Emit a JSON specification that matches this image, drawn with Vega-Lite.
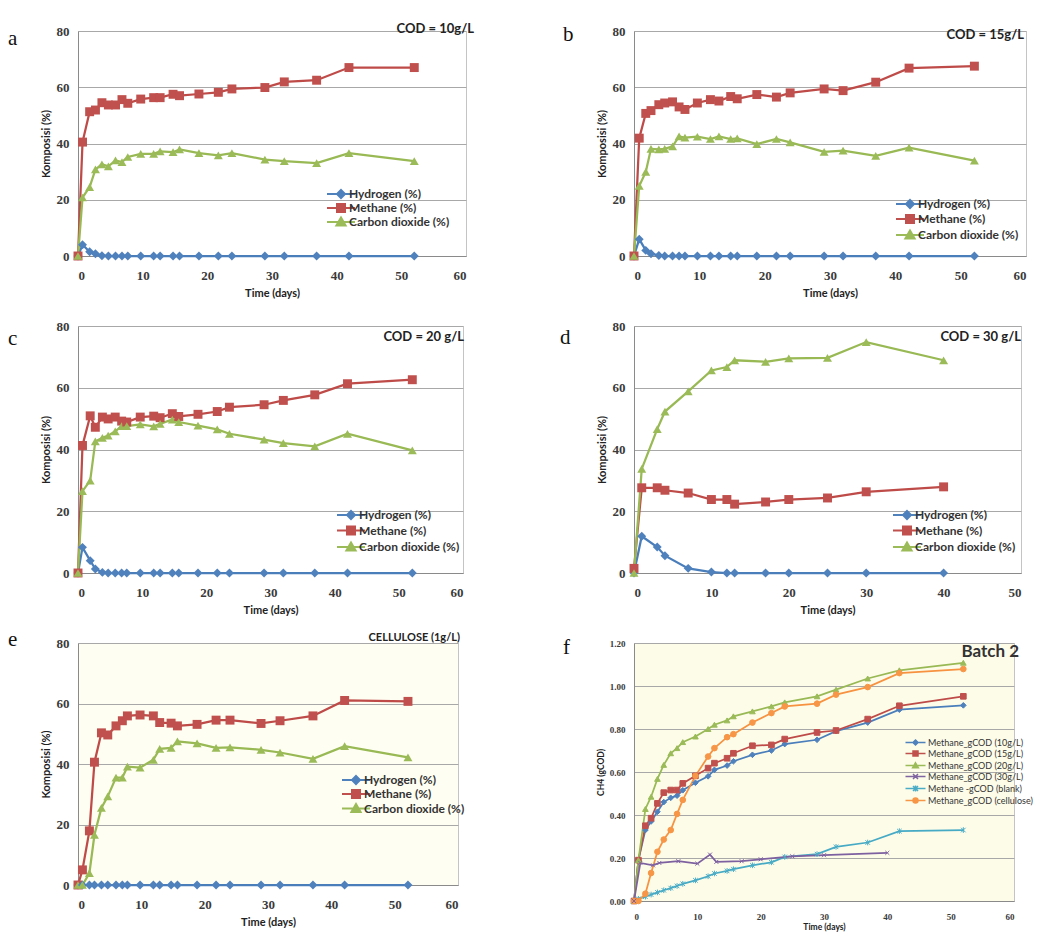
{
"$schema": "https://vega.github.io/schema/vega-lite/v6.json",
"background": "white",
"padding": {"left": 7, "top": 22, "right": 5, "bottom": 5},
"bounds": "flush",
"columns": 2,
"spacing": {"row": 70, "column": 168},
"resolve": {
"scale": {"color": "independent", "fill": "independent", "stroke": "independent", "shape": "independent", "size": "independent"},
"legend": {"color": "independent", "fill": "independent", "stroke": "independent", "shape": "independent", "size": "independent"}
},
"datasets": {
"a": [
{"t":0,"H":0,"M":0,"C":0},
{"t":0.7,"H":4,"M":40.5,"C":20.8},
{"t":1.8,"H":1.5,"M":51.3,"C":24.5},
{"t":2.7,"H":0.8,"M":51.9,"C":30.8},
{"t":3.7,"H":0.1,"M":54.5,"C":32.6},
{"t":4.7,"H":0,"M":53.7,"C":31.9},
{"t":5.8,"H":0,"M":53.7,"C":34.0},
{"t":6.8,"H":0,"M":55.6,"C":33.4},
{"t":7.7,"H":0,"M":54.3,"C":35.2},
{"t":9.7,"H":0,"M":55.8,"C":36.3},
{"t":11.7,"H":0,"M":56.3,"C":36.3},
{"t":12.7,"H":0,"M":56.3,"C":37.2},
{"t":14.7,"H":0,"M":57.5,"C":36.9},
{"t":15.7,"H":0,"M":57.0,"C":37.9},
{"t":18.7,"H":0,"M":57.6,"C":36.6},
{"t":21.7,"H":0,"M":58.2,"C":35.8},
{"t":23.8,"H":0,"M":59.4,"C":36.6},
{"t":28.9,"H":0,"M":59.9,"C":34.3},
{"t":31.9,"H":0,"M":61.9,"C":33.7},
{"t":36.9,"H":0,"M":62.5,"C":33.0},
{"t":41.9,"H":0,"M":67.0,"C":36.6},
{"t":52,"H":0,"M":67.0,"C":33.7}
],
"b": [
{"t":0,"H":0,"M":0,"C":0},
{"t":0.8,"H":6,"M":41.9,"C":24.9},
{"t":1.8,"H":2,"M":50.7,"C":29.9},
{"t":2.6,"H":0.8,"M":51.7,"C":38.1},
{"t":3.8,"H":0.2,"M":53.8,"C":37.9},
{"t":4.7,"H":0,"M":54.4,"C":38.1},
{"t":5.9,"H":0,"M":54.8,"C":39.0},
{"t":6.9,"H":0,"M":53.0,"C":42.5},
{"t":7.8,"H":0,"M":52.1,"C":42.1},
{"t":9.7,"H":0,"M":54.4,"C":42.4},
{"t":11.7,"H":0,"M":55.6,"C":41.6},
{"t":13.0,"H":0,"M":55.1,"C":42.5},
{"t":14.8,"H":0,"M":56.7,"C":41.6},
{"t":15.8,"H":0,"M":55.9,"C":41.8},
{"t":18.8,"H":0,"M":57.4,"C":39.8},
{"t":21.8,"H":0,"M":56.5,"C":41.6},
{"t":23.9,"H":0,"M":58.0,"C":40.4},
{"t":29.1,"H":0,"M":59.4,"C":37.0},
{"t":32.0,"H":0,"M":58.8,"C":37.5},
{"t":37.0,"H":0,"M":61.8,"C":35.6},
{"t":42.1,"H":0,"M":66.8,"C":38.5},
{"t":52.1,"H":0,"M":67.5,"C":33.9}
],
"c": [
{"t":0,"H":0,"M":0,"C":0},
{"t":0.7,"H":8.3,"M":41.3,"C":26.5},
{"t":1.9,"H":4,"M":50.9,"C":29.9},
{"t":2.7,"H":1.3,"M":47.2,"C":42.6},
{"t":3.8,"H":0.2,"M":50.5,"C":43.8},
{"t":4.7,"H":0,"M":49.9,"C":44.5},
{"t":5.8,"H":0,"M":50.5,"C":45.9},
{"t":6.8,"H":0,"M":49.2,"C":47.6},
{"t":7.6,"H":0,"M":48.9,"C":47.6},
{"t":9.7,"H":0,"M":50.5,"C":48.1},
{"t":11.8,"H":0,"M":50.8,"C":47.5},
{"t":12.8,"H":0,"M":50.3,"C":48.3},
{"t":14.7,"H":0,"M":51.6,"C":49.7},
{"t":15.7,"H":0,"M":50.7,"C":48.9},
{"t":18.7,"H":0,"M":51.4,"C":47.7},
{"t":21.7,"H":0,"M":52.3,"C":46.5},
{"t":23.6,"H":0,"M":53.7,"C":45.1},
{"t":29.0,"H":0,"M":54.5,"C":43.2},
{"t":32.0,"H":0,"M":55.9,"C":42.1},
{"t":36.9,"H":0,"M":57.7,"C":41.0},
{"t":42.0,"H":0,"M":61.3,"C":45.1},
{"t":52.1,"H":0,"M":62.6,"C":39.7}
],
"d": [
{"t":0,"H":0,"M":1.5,"C":0},
{"t":1,"H":11.9,"M":27.6,"C":33.7},
{"t":3,"H":8.4,"M":27.6,"C":46.6},
{"t":4,"H":5.6,"M":26.8,"C":52.3},
{"t":7,"H":1.5,"M":25.9,"C":58.8},
{"t":10,"H":0.3,"M":23.8,"C":65.6},
{"t":12,"H":0,"M":23.8,"C":66.7},
{"t":13,"H":0,"M":22.3,"C":68.9},
{"t":17,"H":0,"M":23.0,"C":68.4},
{"t":20,"H":0,"M":23.8,"C":69.5},
{"t":25,"H":0,"M":24.3,"C":69.7},
{"t":30,"H":0,"M":26.3,"C":74.8},
{"t":40,"H":0,"M":27.9,"C":68.9}
],
"e": [
{"t":0,"H":0,"M":0,"C":0},
{"t":0.7,"H":0,"M":5,"C":0},
{"t":1.8,"H":0,"M":17.9,"C":3.9},
{"t":2.6,"H":0,"M":40.6,"C":16.6},
{"t":3.7,"H":0,"M":50.3,"C":25.5},
{"t":4.7,"H":0,"M":49.6,"C":29.3},
{"t":6.0,"H":0,"M":52.6,"C":35.5},
{"t":7.0,"H":0,"M":54.3,"C":35.5},
{"t":7.8,"H":0,"M":55.9,"C":39.1},
{"t":9.8,"H":0,"M":56.2,"C":38.8},
{"t":11.9,"H":0,"M":55.9,"C":41.4},
{"t":12.9,"H":0,"M":53.7,"C":45.0},
{"t":14.7,"H":0,"M":53.5,"C":45.3},
{"t":15.7,"H":0,"M":52.6,"C":47.5},
{"t":18.8,"H":0,"M":53.1,"C":46.8},
{"t":21.8,"H":0,"M":54.5,"C":45.3},
{"t":24.0,"H":0,"M":54.5,"C":45.5},
{"t":28.9,"H":0,"M":53.4,"C":44.7},
{"t":31.9,"H":0,"M":54.3,"C":43.8},
{"t":37.1,"H":0,"M":55.9,"C":41.7},
{"t":42.1,"H":0,"M":61.0,"C":45.9},
{"t":52.1,"H":0,"M":60.7,"C":42.2}
],
"f": [
{"t":0,"g10":0,"g15":0,"g20":0,"blank":0,"cellulose":0},
{"t":0.7,"g10":0.19,"g15":0.19,"g20":0.19,"blank":0.01,"cellulose":0},
{"t":1.8,"g10":0.33,"g15":0.35,"g20":0.428,"blank":0.02,"cellulose":0.034},
{"t":2.7,"g10":0.37,"g15":0.385,"g20":0.485,"blank":0.03,"cellulose":0.13},
{"t":3.7,"g10":0.415,"g15":0.454,"g20":0.568,"blank":0.04,"cellulose":0.229},
{"t":4.7,"g10":0.46,"g15":0.504,"g20":0.633,"blank":0.05,"cellulose":0.286},
{"t":5.8,"g10":0.48,"g15":0.516,"g20":0.687,"blank":0.06,"cellulose":0.33},
{"t":6.8,"g10":0.49,"g15":0.516,"g20":0.711,"blank":0.07,"cellulose":0.405},
{"t":7.7,"g10":0.515,"g15":0.547,"g20":0.739,"blank":0.08,"cellulose":0.47},
{"t":9.7,"g10":0.55,"g15":0.582,"g20":0.765,"blank":0.096,"cellulose":0.582},
{"t":11.7,"g10":0.58,"g15":0.618,"g20":0.8,"blank":0.115,"cellulose":0.672},
{"t":12.7,"g10":0.61,"g15":0.641,"g20":0.82,"blank":0.128,"cellulose":0.711},
{"t":14.7,"g10":0.63,"g15":0.664,"g20":0.84,"blank":0.14,"cellulose":0.762},
{"t":15.7,"g10":0.65,"g15":0.687,"g20":0.859,"blank":0.148,"cellulose":0.776},
{"t":18.7,"g10":0.68,"g15":0.722,"g20":0.882,"blank":0.166,"cellulose":0.83},
{"t":21.7,"g10":0.7,"g15":0.726,"g20":0.905,"blank":0.18,"cellulose":0.874},
{"t":23.8,"g10":0.73,"g15":0.753,"g20":0.924,"blank":0.205,"cellulose":0.905},
{"t":28.9,"g10":0.75,"g15":0.784,"g20":0.952,"blank":0.218,"cellulose":0.918},
{"t":31.9,"g10":0.79,"g15":0.793,"g20":0.983,"blank":0.252,"cellulose":0.96},
{"t":36.9,"g10":0.83,"g15":0.846,"g20":1.035,"blank":0.272,"cellulose":0.995},
{"t":41.9,"g10":0.89,"g15":0.908,"g20":1.073,"blank":0.325,"cellulose":1.06},
{"t":52,"g10":0.91,"g15":0.952,"g20":1.108,"blank":0.33,"cellulose":1.079},
{"t":0,"g30":0},
{"t":1,"g30":0.177},
{"t":3,"g30":0.166},
{"t":4,"g30":0.177},
{"t":7,"g30":0.185},
{"t":10,"g30":0.174},
{"t":12,"g30":0.216},
{"t":13,"g30":0.182},
{"t":17,"g30":0.185},
{"t":20,"g30":0.194},
{"t":25,"g30":0.208},
{"t":30,"g30":0.213},
{"t":40,"g30":0.224}
]
},
"concat": [
{
"width": 388, "height": 225,
"title": {"text": "a", "dx": -70, "dy": 30},
"resolve": {"scale": {"color": "independent", "fill": "independent", "stroke": "independent", "shape": "independent"}, "legend": {"color": "independent", "fill": "independent", "stroke": "independent", "shape": "independent"}},
"layer": [
{"data": {"name": "a"}, "transform": [{"fold": ["H","M","C"], "as": ["s","v"]}],
"mark": {"type": "line", "strokeWidth": 2.25},
"encoding": {
"x": {"field": "t", "type": "quantitative", "scale": {"domain": [0,60], "nice": false}, "axis": {"values": [0,10,20,30,40,50,60], "title": "Time (days)"}},
"y": {"field": "v", "type": "quantitative", "scale": {"domain": [0,80], "nice": false}, "axis": {"values": [0,10,20,30,40,50,60,70,80], "title": "Komposisi (%)"}},
"color": {"field": "s", "type": "nominal", "scale": {"domain": ["H","M","C"], "range": ["#4A7EBB","#BE4B48","#98B954"]}, "legend": null}}},
{"data": {"name": "a"}, "transform": [{"fold": ["H","M","C"], "as": ["s","v"]}],
"mark": {"type": "point", "filled": true, "opacity": 1, "size": 80},
"encoding": {
"x": {"field": "t", "type": "quantitative"},
"y": {"field": "v", "type": "quantitative"},
"fill": {"field": "s", "type": "nominal", "scale": {"domain": ["H","M","C"], "range": ["#4F81BD","#C0504D","#9BBB59"]}, "legend": null},
"shape": {"field": "s", "type": "nominal", "scale": {"domain": ["H","M","C"], "range": ["diamond","square","triangle-up"]}, "legend": null}}},
{"data": {"name": "a"}, "transform": [{"fold": ["H","M","C"], "as": ["s","v"]}],
"mark": {"type": "point", "filled": true, "opacity": 0, "size": 64, "strokeWidth": 2},
"encoding": {
"x": {"field": "t", "type": "quantitative"},
"y": {"field": "v", "type": "quantitative"},
"fill": {"field": "s", "type": "nominal", "scale": {"domain": ["H","M","C"], "range": ["#4F81BD","#C0504D","#9BBB59"]}},
"stroke": {"field": "s", "type": "nominal", "scale": {"domain": ["H","M","C"], "range": ["#4F81BD","#C0504D","#9BBB59"]}},
"shape": {"field": "s", "type": "nominal", "scale": {"domain": ["H","M","C"], "range": ["M-3.5,0H3.5M0,-1L1,0L0,1L-1,0Z","M-3.5,0H3.5M-1,-1H1V1H-1Z","M-3.5,0H3.5M0,-1.1L1.15,0.9H-1.15Z"]},
"legend": {"title": null, "legendX": 257, "legendY": 157, "rowPadding": -4, "symbolOpacity": 1, "symbolStrokeWidth": 2, "symbolSize": 64,
"labelExpr": "['Hydrogen (%)','Methane (%)','Carbon dioxide (%)'][indexof(['H','M','C'],datum.label)]"}}}},
{"data": {"values": [{"label": "COD = 10g/L"}]},
"mark": {"type": "text", "align": "right", "baseline": "alphabetic", "dx": 8, "dy": 2, "font": "Lato", "fontSize": 13, "fontWeight": "bold", "color": "#222"},
"encoding": {"x": {"datum": 60}, "y": {"datum": 80}, "text": {"field": "label", "type": "nominal"}}}
]
},
{
"width": 392, "height": 225,
"title": {"text": "b", "dx": -71, "dy": 24},
"resolve": {"scale": {"color": "independent", "fill": "independent", "stroke": "independent", "shape": "independent"}, "legend": {"color": "independent", "fill": "independent", "stroke": "independent", "shape": "independent"}},
"layer": [
{"data": {"name": "b"}, "transform": [{"fold": ["H","M","C"], "as": ["s","v"]}],
"mark": {"type": "line", "strokeWidth": 2.25},
"encoding": {
"x": {"field": "t", "type": "quantitative", "scale": {"domain": [0,60], "nice": false}, "axis": {"values": [0,10,20,30,40,50,60], "title": "Time (days)"}},
"y": {"field": "v", "type": "quantitative", "scale": {"domain": [0,80], "nice": false}, "axis": {"values": [0,10,20,30,40,50,60,70,80], "title": "Komposisi (%)"}},
"color": {"field": "s", "type": "nominal", "scale": {"domain": ["H","M","C"], "range": ["#4A7EBB","#BE4B48","#98B954"]}, "legend": null}}},
{"data": {"name": "b"}, "transform": [{"fold": ["H","M","C"], "as": ["s","v"]}],
"mark": {"type": "point", "filled": true, "opacity": 1, "size": 80},
"encoding": {
"x": {"field": "t", "type": "quantitative"},
"y": {"field": "v", "type": "quantitative"},
"fill": {"field": "s", "type": "nominal", "scale": {"domain": ["H","M","C"], "range": ["#4F81BD","#C0504D","#9BBB59"]}, "legend": null},
"shape": {"field": "s", "type": "nominal", "scale": {"domain": ["H","M","C"], "range": ["diamond","square","triangle-up"]}, "legend": null}}},
{"data": {"name": "b"}, "transform": [{"fold": ["H","M","C"], "as": ["s","v"]}],
"mark": {"type": "point", "filled": true, "opacity": 0, "size": 64, "strokeWidth": 2},
"encoding": {
"x": {"field": "t", "type": "quantitative"},
"y": {"field": "v", "type": "quantitative"},
"fill": {"field": "s", "type": "nominal", "scale": {"domain": ["H","M","C"], "range": ["#4F81BD","#C0504D","#9BBB59"]}},
"stroke": {"field": "s", "type": "nominal", "scale": {"domain": ["H","M","C"], "range": ["#4F81BD","#C0504D","#9BBB59"]}},
"shape": {"field": "s", "type": "nominal", "scale": {"domain": ["H","M","C"], "range": ["M-3.5,0H3.5M0,-1L1,0L0,1L-1,0Z","M-3.5,0H3.5M-1,-1H1V1H-1Z","M-3.5,0H3.5M0,-1.1L1.15,0.9H-1.15Z"]},
"legend": {"title": null, "legendX": 270, "legendY": 167, "rowPadding": -1, "symbolOpacity": 1, "symbolStrokeWidth": 2, "symbolSize": 64,
"labelExpr": "['Hydrogen (%)','Methane (%)','Carbon dioxide (%)'][indexof(['H','M','C'],datum.label)]"}}}},
{"data": {"values": [{"label": "COD = 15g/L"}]},
"mark": {"type": "text", "align": "right", "baseline": "alphabetic", "dx": -2, "dy": 8, "font": "Lato", "fontSize": 13, "fontWeight": "bold", "color": "#222"},
"encoding": {"x": {"datum": 60}, "y": {"datum": 80}, "text": {"field": "label", "type": "nominal"}}}
]
},
{
"width": 385, "height": 247,
"title": {"text": "c", "dx": -70, "dy": 33},
"resolve": {"scale": {"color": "independent", "fill": "independent", "stroke": "independent", "shape": "independent"}, "legend": {"color": "independent", "fill": "independent", "stroke": "independent", "shape": "independent"}},
"layer": [
{"data": {"name": "c"}, "transform": [{"fold": ["H","M","C"], "as": ["s","v"]}],
"mark": {"type": "line", "strokeWidth": 2.25},
"encoding": {
"x": {"field": "t", "type": "quantitative", "scale": {"domain": [0,60], "nice": false}, "axis": {"values": [0,10,20,30,40,50,60], "title": "Time (days)"}},
"y": {"field": "v", "type": "quantitative", "scale": {"domain": [0,80], "nice": false}, "axis": {"values": [0,10,20,30,40,50,60,70,80], "title": "Komposisi (%)"}},
"color": {"field": "s", "type": "nominal", "scale": {"domain": ["H","M","C"], "range": ["#4A7EBB","#BE4B48","#98B954"]}, "legend": null}}},
{"data": {"name": "c"}, "transform": [{"fold": ["H","M","C"], "as": ["s","v"]}],
"mark": {"type": "point", "filled": true, "opacity": 1, "size": 80},
"encoding": {
"x": {"field": "t", "type": "quantitative"},
"y": {"field": "v", "type": "quantitative"},
"fill": {"field": "s", "type": "nominal", "scale": {"domain": ["H","M","C"], "range": ["#4F81BD","#C0504D","#9BBB59"]}, "legend": null},
"shape": {"field": "s", "type": "nominal", "scale": {"domain": ["H","M","C"], "range": ["diamond","square","triangle-up"]}, "legend": null}}},
{"data": {"name": "c"}, "transform": [{"fold": ["H","M","C"], "as": ["s","v"]}],
"mark": {"type": "point", "filled": true, "opacity": 0, "size": 64, "strokeWidth": 2},
"encoding": {
"x": {"field": "t", "type": "quantitative"},
"y": {"field": "v", "type": "quantitative"},
"fill": {"field": "s", "type": "nominal", "scale": {"domain": ["H","M","C"], "range": ["#4F81BD","#C0504D","#9BBB59"]}},
"stroke": {"field": "s", "type": "nominal", "scale": {"domain": ["H","M","C"], "range": ["#4F81BD","#C0504D","#9BBB59"]}},
"shape": {"field": "s", "type": "nominal", "scale": {"domain": ["H","M","C"], "range": ["M-3.5,0H3.5M0,-1L1,0L0,1L-1,0Z","M-3.5,0H3.5M-1,-1H1V1H-1Z","M-3.5,0H3.5M0,-1.1L1.15,0.9H-1.15Z"]},
"legend": {"title": null, "legendX": 267, "legendY": 183, "rowPadding": -0.5, "symbolOpacity": 1, "symbolStrokeWidth": 2, "symbolSize": 64,
"labelExpr": "['Hydrogen (%)','Methane (%)','Carbon dioxide (%)'][indexof(['H','M','C'],datum.label)]"}}}},
{"data": {"values": [{"label": "COD = 20 g/L"}]},
"mark": {"type": "text", "align": "right", "baseline": "alphabetic", "dx": 1, "dy": 15, "font": "Lato", "fontSize": 13, "fontWeight": "bold", "color": "#222"},
"encoding": {"x": {"datum": 60}, "y": {"datum": 80}, "text": {"field": "label", "type": "nominal"}}}
]
},
{
"width": 387, "height": 247,
"title": {"text": "d", "dx": -74, "dy": 32},
"resolve": {"scale": {"color": "independent", "fill": "independent", "stroke": "independent", "shape": "independent"}, "legend": {"color": "independent", "fill": "independent", "stroke": "independent", "shape": "independent"}},
"layer": [
{"data": {"name": "d"}, "transform": [{"fold": ["H","M","C"], "as": ["s","v"]}],
"mark": {"type": "line", "strokeWidth": 2.25},
"encoding": {
"x": {"field": "t", "type": "quantitative", "scale": {"domain": [0,50], "nice": false}, "axis": {"values": [0,10,20,30,40,50], "title": "Time (days)"}},
"y": {"field": "v", "type": "quantitative", "scale": {"domain": [0,80], "nice": false}, "axis": {"values": [0,10,20,30,40,50,60,70,80], "title": "Komposisi (%)"}},
"color": {"field": "s", "type": "nominal", "scale": {"domain": ["H","M","C"], "range": ["#4A7EBB","#BE4B48","#98B954"]}, "legend": null}}},
{"data": {"name": "d"}, "transform": [{"fold": ["H","M","C"], "as": ["s","v"]}],
"mark": {"type": "point", "filled": true, "opacity": 1, "size": 80},
"encoding": {
"x": {"field": "t", "type": "quantitative"},
"y": {"field": "v", "type": "quantitative"},
"fill": {"field": "s", "type": "nominal", "scale": {"domain": ["H","M","C"], "range": ["#4F81BD","#C0504D","#9BBB59"]}, "legend": null},
"shape": {"field": "s", "type": "nominal", "scale": {"domain": ["H","M","C"], "range": ["diamond","square","triangle-up"]}, "legend": null}}},
{"data": {"name": "d"}, "transform": [{"fold": ["H","M","C"], "as": ["s","v"]}],
"mark": {"type": "point", "filled": true, "opacity": 0, "size": 64, "strokeWidth": 2},
"encoding": {
"x": {"field": "t", "type": "quantitative"},
"y": {"field": "v", "type": "quantitative"},
"fill": {"field": "s", "type": "nominal", "scale": {"domain": ["H","M","C"], "range": ["#4F81BD","#C0504D","#9BBB59"]}},
"stroke": {"field": "s", "type": "nominal", "scale": {"domain": ["H","M","C"], "range": ["#4F81BD","#C0504D","#9BBB59"]}},
"shape": {"field": "s", "type": "nominal", "scale": {"domain": ["H","M","C"], "range": ["M-3.5,0H3.5M0,-1L1,0L0,1L-1,0Z","M-3.5,0H3.5M-1,-1H1V1H-1Z","M-3.5,0H3.5M0,-1.1L1.15,0.9H-1.15Z"]},
"legend": {"title": null, "legendX": 267, "legendY": 183, "rowPadding": -0.5, "symbolOpacity": 1, "symbolStrokeWidth": 2, "symbolSize": 64,
"labelExpr": "['Hydrogen (%)','Methane (%)','Carbon dioxide (%)'][indexof(['H','M','C'],datum.label)]"}}}},
{"data": {"values": [{"label": "COD = 30 g/L"}]},
"mark": {"type": "text", "align": "right", "baseline": "alphabetic", "dx": 0, "dy": 15, "font": "Lato", "fontSize": 13, "fontWeight": "bold", "color": "#222"},
"encoding": {"x": {"datum": 50}, "y": {"datum": 80}, "text": {"field": "label", "type": "nominal"}}}
]
},
{
"width": 380, "height": 242,
"title": {"text": "e", "dx": -70, "dy": 22},
"view": {"fill": "#fffef2"},
"resolve": {"scale": {"color": "independent", "fill": "independent", "stroke": "independent", "shape": "independent"}, "legend": {"color": "independent", "fill": "independent", "stroke": "independent", "shape": "independent"}},
"layer": [
{"data": {"name": "e"}, "transform": [{"fold": ["H","M","C"], "as": ["s","v"]}],
"mark": {"type": "line", "strokeWidth": 2.25},
"encoding": {
"x": {"field": "t", "type": "quantitative", "scale": {"domain": [0,60], "nice": false}, "axis": {"values": [0,10,20,30,40,50,60], "title": "Time (days)"}},
"y": {"field": "v", "type": "quantitative", "scale": {"domain": [0,80], "nice": false}, "axis": {"values": [0,20,40,60,80], "title": "Komposisi (%)"}},
"color": {"field": "s", "type": "nominal", "scale": {"domain": ["H","M","C"], "range": ["#4A7EBB","#BE4B48","#98B954"]}, "legend": null}}},
{"data": {"name": "e"}, "transform": [{"fold": ["H","M","C"], "as": ["s","v"]}],
"mark": {"type": "point", "filled": true, "opacity": 1, "size": 80},
"encoding": {
"x": {"field": "t", "type": "quantitative"},
"y": {"field": "v", "type": "quantitative"},
"fill": {"field": "s", "type": "nominal", "scale": {"domain": ["H","M","C"], "range": ["#4F81BD","#C0504D","#9BBB59"]}, "legend": null},
"shape": {"field": "s", "type": "nominal", "scale": {"domain": ["H","M","C"], "range": ["diamond","square","triangle-up"]}, "legend": null}}},
{"data": {"name": "e"}, "transform": [{"fold": ["H","M","C"], "as": ["s","v"]}],
"mark": {"type": "point", "filled": true, "opacity": 0, "size": 64, "strokeWidth": 2},
"encoding": {
"x": {"field": "t", "type": "quantitative"},
"y": {"field": "v", "type": "quantitative"},
"fill": {"field": "s", "type": "nominal", "scale": {"domain": ["H","M","C"], "range": ["#4F81BD","#C0504D","#9BBB59"]}},
"stroke": {"field": "s", "type": "nominal", "scale": {"domain": ["H","M","C"], "range": ["#4F81BD","#C0504D","#9BBB59"]}},
"shape": {"field": "s", "type": "nominal", "scale": {"domain": ["H","M","C"], "range": ["M-3.5,0H3.5M0,-1L1,0L0,1L-1,0Z","M-3.5,0H3.5M-1,-1H1V1H-1Z","M-3.5,0H3.5M0,-1.1L1.15,0.9H-1.15Z"]},
"legend": {"title": null, "legendX": 272, "legendY": 131, "rowPadding": -2.5, "symbolOpacity": 1, "symbolStrokeWidth": 2, "symbolSize": 64,
"labelExpr": "['Hydrogen (%)','Methane (%)','Carbon dioxide (%)'][indexof(['H','M','C'],datum.label)]"}}}},
{"data": {"values": [{"label": "CELLULOSE (1g/L)"}]},
"mark": {"type": "text", "align": "right", "baseline": "alphabetic", "dx": 2, "dy": -2, "font": "Lato", "fontSize": 11, "fontWeight": "bold", "color": "#222"},
"encoding": {"x": {"datum": 60}, "y": {"datum": 80}, "text": {"field": "label", "type": "nominal"}}}
]
},
{
"width": 380, "height": 258,
"title": {"text": "f", "dx": -71, "dy": 23},
"view": {"fill": "#fdfce9"},
"resolve": {"scale": {"color": "independent", "fill": "independent", "stroke": "independent", "shape": "independent"}, "legend": {"color": "independent", "fill": "independent", "stroke": "independent", "shape": "independent"}},
"layer": [
{"data": {"name": "f"}, "transform": [{"fold": ["g10","g15","g20","g30","blank","cellulose"], "as": ["s","v"]}, {"filter": {"field": "v", "valid": true}}],
"mark": {"type": "line", "strokeWidth": 1.75},
"encoding": {
"x": {"field": "t", "type": "quantitative", "scale": {"domain": [0,60], "nice": false}, "axis": {"values": [0,10,20,30,40,50,60], "title": "Time (days)", "labelFontSize": 9, "titleFontSize": 8.5, "labelPadding": 11, "titlePadding": 1}},
"y": {"field": "v", "type": "quantitative", "scale": {"domain": [0,1.2], "nice": false}, "axis": {"values": [0,0.2,0.4,0.6,0.8,1.0,1.2], "format": ".2f", "title": "CH4 (gCOD)", "labelFontSize": 9, "titleFontSize": 8.5, "titlePadding": 4}},
"color": {"field": "s", "type": "nominal", "scale": {"domain": ["g10","g15","g20","g30","blank","cellulose"], "range": ["#4A7EBB","#BE4B48","#98B954","#7D60A0","#46AAC5","#F69240"]}, "legend": null}}},
{"data": {"name": "f"}, "transform": [{"fold": ["g10","g15","g20","g30","blank","cellulose"], "as": ["s","v"]}, {"filter": {"field": "v", "valid": true}}],
"mark": {"type": "point", "filled": true, "opacity": 1, "strokeWidth": 1, "size": 32},
"encoding": {
"x": {"field": "t", "type": "quantitative"},
"y": {"field": "v", "type": "quantitative"},
"fill": {"field": "s", "type": "nominal", "scale": {"domain": ["g10","g15","g20","g30","blank","cellulose"], "range": ["#4F81BD","#C0504D","#9BBB59","#8064A2","#4BACC6","#F79646"]}, "legend": null},
"stroke": {"field": "s", "type": "nominal", "scale": {"domain": ["g10","g15","g20","g30","blank","cellulose"], "range": ["#4F81BD","#C0504D","#9BBB59","#8064A2","#4BACC6","#F79646"]}, "legend": null},
"shape": {"field": "s", "type": "nominal", "scale": {"domain": ["g10","g15","g20","g30","blank","cellulose"], "range": ["diamond","square","triangle-up","M-0.7,-0.7L0.7,0.7M-0.7,0.7L0.7,-0.7","M-0.8,-0.8L0.8,0.8M-0.8,0.8L0.8,-0.8M0,-1V1","circle"]}, "legend": null}}},
{"data": {"name": "f"}, "transform": [{"fold": ["g10","g15","g20","g30","blank","cellulose"], "as": ["s","v"]}, {"filter": {"field": "v", "valid": true}}],
"mark": {"type": "point", "filled": true, "opacity": 0, "size": 25, "strokeWidth": 1.5},
"encoding": {
"x": {"field": "t", "type": "quantitative"},
"y": {"field": "v", "type": "quantitative"},
"fill": {"field": "s", "type": "nominal", "scale": {"domain": ["g10","g15","g20","g30","blank","cellulose"], "range": ["#4F81BD","#C0504D","#9BBB59","#8064A2","#4BACC6","#F79646"]}},
"stroke": {"field": "s", "type": "nominal", "scale": {"domain": ["g10","g15","g20","g30","blank","cellulose"], "range": ["#4F81BD","#C0504D","#9BBB59","#8064A2","#4BACC6","#F79646"]}},
"shape": {"field": "s", "type": "nominal", "scale": {"domain": ["g10","g15","g20","g30","blank","cellulose"], "range": ["M-4,0H4M0,-1L1,0L0,1L-1,0Z","M-4,0H4M-1,-1H1V1H-1Z","M-4,0H4M0,-1.1L1.15,0.9H-1.15Z","M-4,0H4M-1,-1L1,1M-1,1L1,-1","M-4,0H4M-1,-1L1,1M-1,1L1,-1M0,-1.2V1.2","M-4,0H4M1,0A1,1,0,1,1,-1,0A1,1,0,1,1,1,0Z"]},
"legend": {"title": null, "legendX": 277, "legendY": 95, "rowPadding": 0, "symbolOpacity": 1, "symbolStrokeWidth": 1.5, "symbolSize": 25, "labelOffset": 8, "labelFontSize": 9, "labelFontWeight": "normal",
"labelExpr": "['Methane_gCOD (10g/L)','Methane_gCOD (15g/L)','Methane_gCOD (20g/L)','Methane_gCOD (30g/L)','Methane -gCOD (blank)','Methane_gCOD (cellulose)'][indexof(['g10','g15','g20','g30','blank','cellulose'],datum.label)]"}}}},
{"data": {"values": [{"label": "Batch 2"}]},
"mark": {"type": "text", "align": "right", "baseline": "alphabetic", "dx": 5, "dy": 14, "font": "Lato", "fontSize": 17, "fontWeight": "bold", "color": "#333"},
"encoding": {"x": {"datum": 60}, "y": {"datum": 1.2}, "text": {"field": "label", "type": "nominal"}}}
]
}
],
"config": {
"font": "Lato",
"view": {"stroke": "#c4c4c4", "strokeWidth": 1},
"axis": {"labelFont": "Liberation Serif", "labelFontWeight": "bold", "labelFontSize": 13, "labelColor": "#3a3a3a", "titleFont": "Lato", "titleFontWeight": "bold", "titleFontSize": 11, "titleColor": "#222", "ticks": false, "domainColor": "#8a8a8a", "domainWidth": 1, "gridColor": "#a8a8a8", "gridWidth": 1},
"axisX": {"grid": false, "labelPadding": 13, "titlePadding": 5},
"axisY": {"grid": true, "labelPadding": 9, "titlePadding": 5},
"legend": {"orient": "none", "padding": 0, "labelFont": "Lato", "labelFontWeight": "bold", "labelFontSize": 12, "labelColor": "#333", "symbolSize": 64, "symbolStrokeWidth": 2, "labelOffset": 2},
"title": {"anchor": "start", "frame": "group", "font": "Liberation Serif", "fontSize": 21, "fontWeight": "normal", "color": "#111", "baseline": "alphabetic", "offset": 0}
}
}
